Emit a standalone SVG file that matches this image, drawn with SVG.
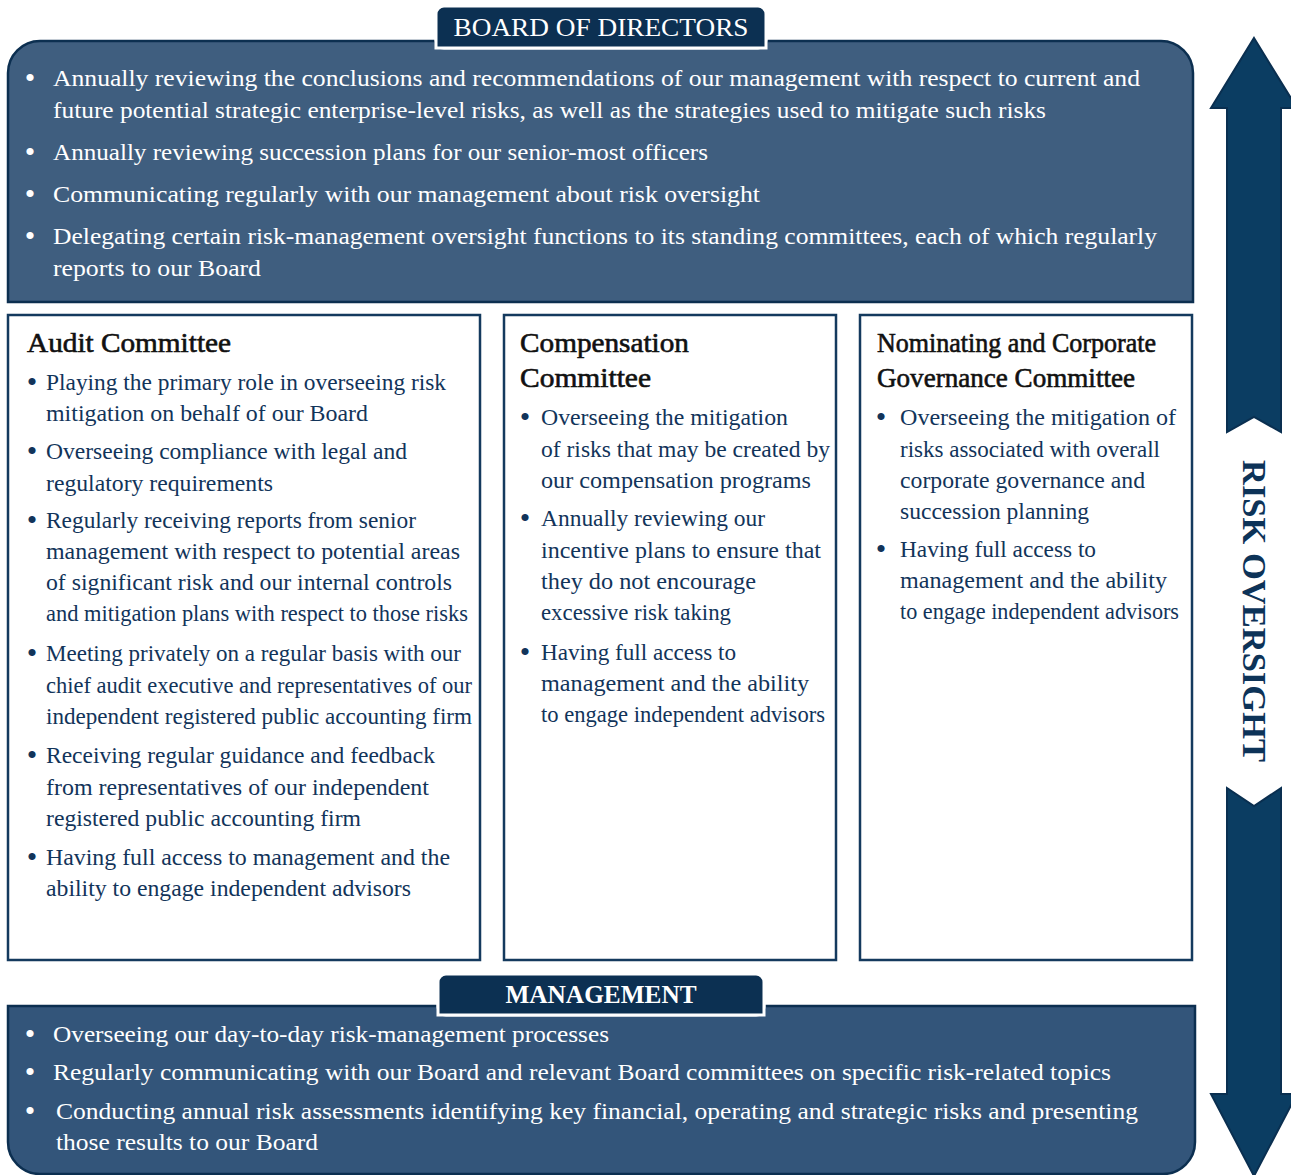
<svg xmlns="http://www.w3.org/2000/svg" width="1291" height="1175" viewBox="0 0 1291 1175">
<style>
.t{font-family:"Liberation Serif","Times New Roman",serif;font-size:24px}
.w{fill:#ffffff}
.b{fill:#12345a}
.h{fill:#111111;font-size:27px;stroke:#111111;stroke-width:0.6}
.tab{fill:#0c3052;stroke:#ffffff;stroke-width:3}
.tt{font-family:"Liberation Serif","Times New Roman",serif;font-size:26px;fill:#ffffff;text-anchor:middle}
.bu{text-anchor:middle;font-size:30px}
.box{fill:#ffffff;stroke:#143a5e;stroke-width:2.5}
.big{stroke:#0c2f50;stroke-width:2.5}
.arr{fill:#0b3d62;stroke:#0a2f50;stroke-width:2}
</style>

<g id="risk-oversight-arrow">
<polygon class="arr" points="1254,38 1297,108 1281,108 1281,432 1254,417 1227,432 1227,108 1211,108"/>
<polygon class="arr" points="1227,788 1254,806 1281,788 1281,1094 1297,1094 1254,1176 1211,1094 1227,1094"/>
<text transform="translate(1243,611) rotate(90)" text-anchor="middle" font-family="'Liberation Serif','Times New Roman',serif" font-size="33" font-weight="bold" fill="#0d3358" textLength="302" lengthAdjust="spacingAndGlyphs">RISK OVERSIGHT</text>
</g>

<g id="board">
<path class="big" fill="#3f5e7f" d="M8,302 L8,73 A32,32 0 0 1 40,41 L1161,41 A32,32 0 0 1 1193,73 L1193,302 Z"/>
<g class="t w">
<text class="bu" x="30" y="88">•</text>
<text x="53" y="86" textLength="1087" lengthAdjust="spacingAndGlyphs">Annually reviewing the conclusions and recommendations of our management with respect to current and</text>
<text x="53" y="118" textLength="993" lengthAdjust="spacingAndGlyphs">future potential strategic enterprise-level risks, as well as the strategies used to mitigate such risks</text>
<text class="bu" x="30" y="162">•</text>
<text x="53" y="160" textLength="655" lengthAdjust="spacingAndGlyphs">Annually reviewing succession plans for our senior-most officers</text>
<text class="bu" x="30" y="204">•</text>
<text x="53" y="202" textLength="707" lengthAdjust="spacingAndGlyphs">Communicating regularly with our management about risk oversight</text>
<text class="bu" x="30" y="246">•</text>
<text x="53" y="244" textLength="1104" lengthAdjust="spacingAndGlyphs">Delegating certain risk-management oversight functions to its standing committees, each of which regularly</text>
<text x="53" y="276" textLength="208" lengthAdjust="spacingAndGlyphs">reports to our Board</text>
</g>
<rect class="tab" x="436" y="6" width="330" height="42" rx="8"/>
<rect x="436" y="30" width="330" height="18" fill="#0c3052"/>
<path d="M436,30 L436,48 L766,48 L766,30" fill="none" stroke="#ffffff" stroke-width="3"/>
<text class="tt" x="601" y="36" textLength="295" lengthAdjust="spacingAndGlyphs">BOARD OF DIRECTORS</text>
</g>

<g id="audit-committee">
<rect class="box" x="8" y="315" width="472" height="645"/>
<text class="t h" x="27" y="352" textLength="204" lengthAdjust="spacingAndGlyphs">Audit Committee</text>
<g class="t b">
<text class="bu" x="32" y="392">•</text>
<text x="46" y="390" textLength="400" lengthAdjust="spacingAndGlyphs">Playing the primary role in overseeing risk</text>
<text x="46" y="421" textLength="322" lengthAdjust="spacingAndGlyphs">mitigation on behalf of our Board</text>
<text class="bu" x="32" y="461">•</text>
<text x="46" y="459" textLength="361" lengthAdjust="spacingAndGlyphs">Overseeing compliance with legal and</text>
<text x="46" y="491" textLength="227" lengthAdjust="spacingAndGlyphs">regulatory requirements</text>
<text class="bu" x="32" y="530">•</text>
<text x="46" y="528" textLength="370" lengthAdjust="spacingAndGlyphs">Regularly receiving reports from senior</text>
<text x="46" y="559" textLength="414" lengthAdjust="spacingAndGlyphs">management with respect to potential areas</text>
<text x="46" y="590" textLength="406" lengthAdjust="spacingAndGlyphs">of significant risk and our internal controls</text>
<text x="46" y="621" textLength="422" lengthAdjust="spacingAndGlyphs">and mitigation plans with respect to those risks</text>
<text class="bu" x="32" y="663">•</text>
<text x="46" y="661" textLength="415" lengthAdjust="spacingAndGlyphs">Meeting privately on a regular basis with our</text>
<text x="46" y="693" textLength="426" lengthAdjust="spacingAndGlyphs">chief audit executive and representatives of our</text>
<text x="46" y="724" textLength="426" lengthAdjust="spacingAndGlyphs">independent registered public accounting firm</text>
<text class="bu" x="32" y="765">•</text>
<text x="46" y="763" textLength="389" lengthAdjust="spacingAndGlyphs">Receiving regular guidance and feedback</text>
<text x="46" y="795" textLength="383" lengthAdjust="spacingAndGlyphs">from representatives of our independent</text>
<text x="46" y="826" textLength="315" lengthAdjust="spacingAndGlyphs">registered public accounting firm</text>
<text class="bu" x="32" y="867">•</text>
<text x="46" y="865" textLength="404" lengthAdjust="spacingAndGlyphs">Having full access to management and the</text>
<text x="46" y="896" textLength="365" lengthAdjust="spacingAndGlyphs">ability to engage independent advisors</text>
</g>
</g>

<g id="compensation-committee">
<rect class="box" x="504" y="315" width="332" height="645"/>
<text class="t h" x="520" y="352" textLength="169" lengthAdjust="spacingAndGlyphs">Compensation</text>
<text class="t h" x="520" y="387" textLength="131" lengthAdjust="spacingAndGlyphs">Committee</text>
<g class="t b">
<text class="bu" x="525" y="427">•</text>
<text x="541" y="425" textLength="247" lengthAdjust="spacingAndGlyphs">Overseeing the mitigation</text>
<text x="541" y="457" textLength="289" lengthAdjust="spacingAndGlyphs">of risks that may be created by</text>
<text x="541" y="488" textLength="270" lengthAdjust="spacingAndGlyphs">our compensation programs</text>
<text class="bu" x="525" y="528">•</text>
<text x="541" y="526" textLength="224" lengthAdjust="spacingAndGlyphs">Annually reviewing our</text>
<text x="541" y="558" textLength="280" lengthAdjust="spacingAndGlyphs">incentive plans to ensure that</text>
<text x="541" y="589" textLength="215" lengthAdjust="spacingAndGlyphs">they do not encourage</text>
<text x="541" y="620" textLength="190" lengthAdjust="spacingAndGlyphs">excessive risk taking</text>
<text class="bu" x="525" y="662">•</text>
<text x="541" y="660" textLength="195" lengthAdjust="spacingAndGlyphs">Having full access to</text>
<text x="541" y="691" textLength="268" lengthAdjust="spacingAndGlyphs">management and the ability</text>
<text x="541" y="722" textLength="284" lengthAdjust="spacingAndGlyphs">to engage independent advisors</text>
</g>
</g>

<g id="nominating-committee">
<rect class="box" x="860" y="315" width="332" height="645"/>
<text class="t h" x="877" y="352" textLength="279" lengthAdjust="spacingAndGlyphs">Nominating and Corporate</text>
<text class="t h" x="877" y="387" textLength="258" lengthAdjust="spacingAndGlyphs">Governance Committee</text>
<g class="t b">
<text class="bu" x="881" y="427">•</text>
<text x="900" y="425" textLength="276" lengthAdjust="spacingAndGlyphs">Overseeing the mitigation of</text>
<text x="900" y="457" textLength="260" lengthAdjust="spacingAndGlyphs">risks associated with overall</text>
<text x="900" y="488" textLength="245" lengthAdjust="spacingAndGlyphs">corporate governance and</text>
<text x="900" y="519" textLength="189" lengthAdjust="spacingAndGlyphs">succession planning</text>
<text class="bu" x="881" y="559">•</text>
<text x="900" y="557" textLength="196" lengthAdjust="spacingAndGlyphs">Having full access to</text>
<text x="900" y="588" textLength="267" lengthAdjust="spacingAndGlyphs">management and the ability</text>
<text x="900" y="619" textLength="279" lengthAdjust="spacingAndGlyphs">to engage independent advisors</text>
</g>
</g>

<g id="management">
<path class="big" fill="#33557a" d="M8,1006 L1195,1006 L1195,1142 A32,32 0 0 1 1163,1174 L40,1174 A32,32 0 0 1 8,1142 Z"/>
<g class="t w">
<text class="bu" x="30" y="1044">•</text>
<text x="53" y="1042" textLength="556" lengthAdjust="spacingAndGlyphs">Overseeing our day-to-day risk-management processes</text>
<text class="bu" x="30" y="1082">•</text>
<text x="53" y="1080" textLength="1058" lengthAdjust="spacingAndGlyphs">Regularly communicating with our Board and relevant Board committees on specific risk-related topics</text>
<text class="bu" x="30" y="1121">•</text>
<text x="56" y="1119" textLength="1082" lengthAdjust="spacingAndGlyphs">Conducting annual risk assessments identifying key financial, operating and strategic risks and presenting</text>
<text x="56" y="1150" textLength="262" lengthAdjust="spacingAndGlyphs">those results to our Board</text>
</g>
<rect class="tab" x="438" y="974" width="326" height="41" rx="8"/>
<rect x="438" y="998" width="326" height="17" fill="#0c3052"/>
<path d="M438,998 L438,1015 L764,1015 L764,998" fill="none" stroke="#ffffff" stroke-width="3"/>
<text class="tt" x="601" y="1003" font-weight="bold" textLength="191" lengthAdjust="spacingAndGlyphs">MANAGEMENT</text>
</g>
</svg>
